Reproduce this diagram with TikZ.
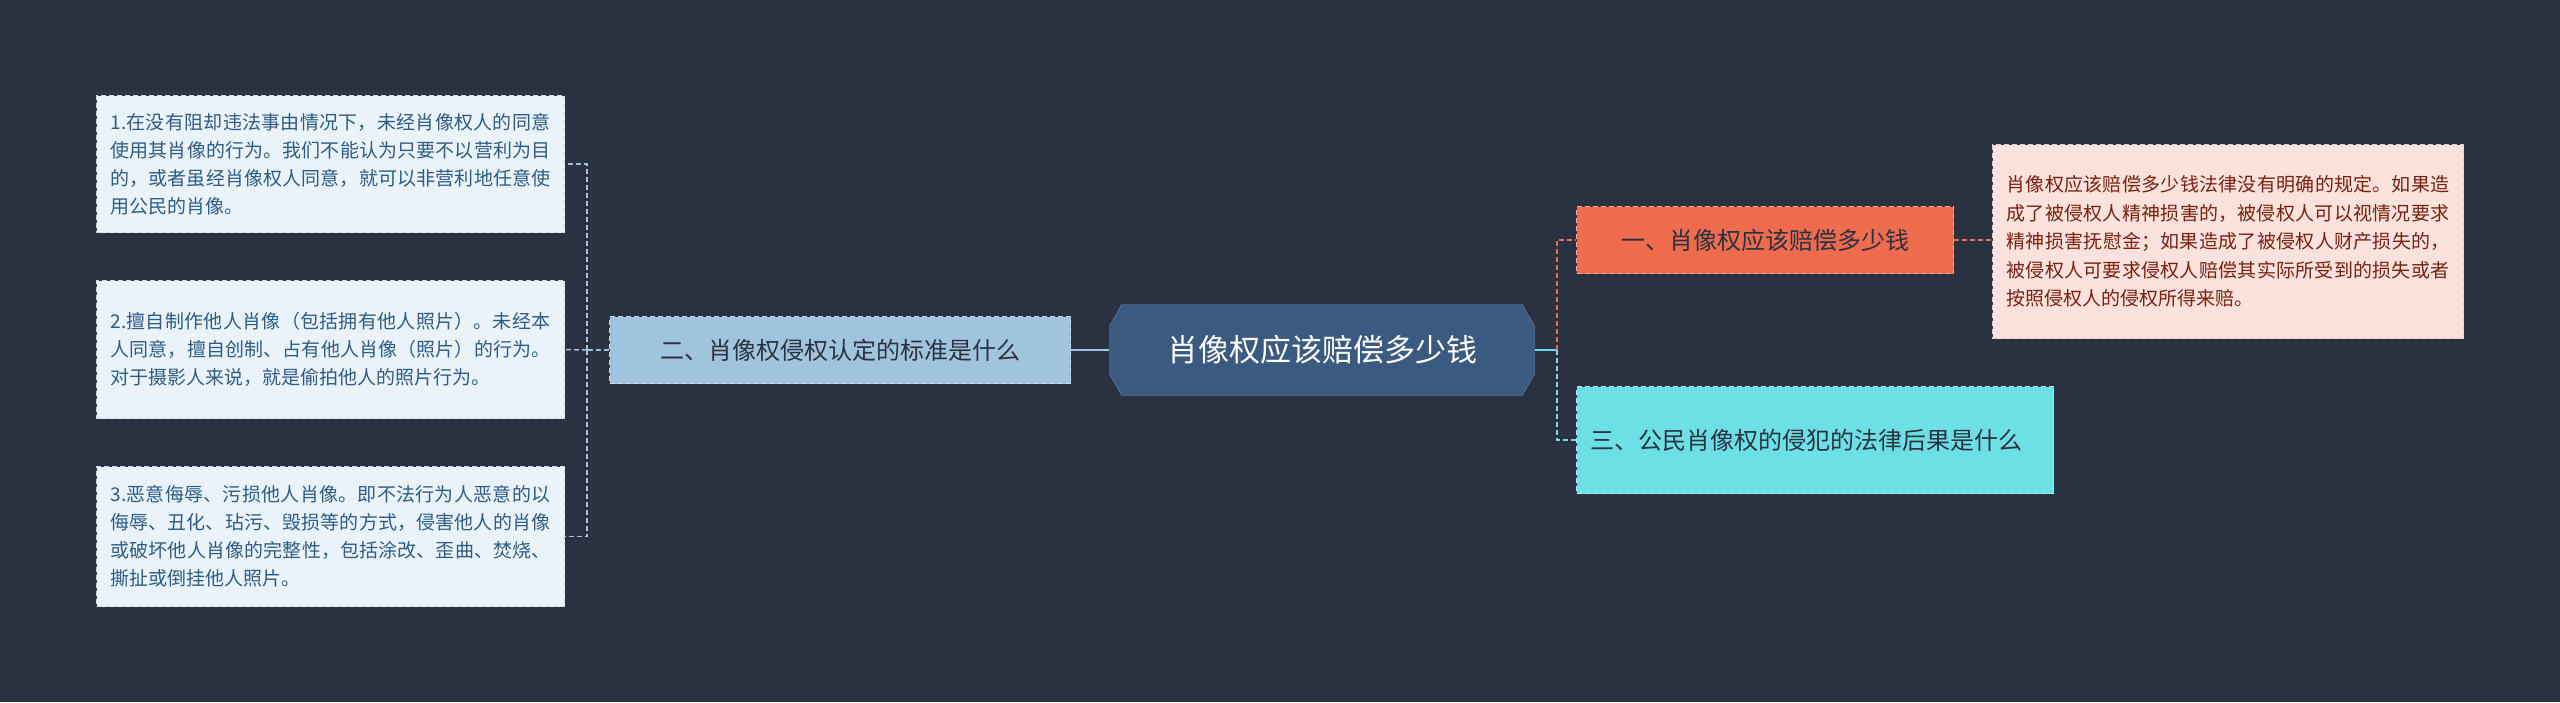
\documentclass[tikz,border=0pt]{standalone}
\usepackage{fontspec}
\setmainfont{Noto Sans CJK SC}
\XeTeXlinebreaklocale "zh"
\XeTeXlinebreakskip=0pt plus 1pt
\usetikzlibrary{shapes.misc,shapes.geometric}
\definecolor{bg}{HTML}{2A3242}
\definecolor{cen}{HTML}{3B5A80}
\definecolor{lnode}{HTML}{A0C4DE}
\definecolor{leaf}{HTML}{EAF3FA}
\definecolor{orng}{HTML}{EE6B4E}
\definecolor{pink}{HTML}{FCE2DC}
\definecolor{cyan1}{HTML}{6DE0E6}
\definecolor{ltxt}{HTML}{2E5C86}
\definecolor{rtxt}{HTML}{7A2010}
\tikzset{
 dsh/.style={dash pattern=on 5pt off 3pt},
 box/.style={draw=#1!60!white, dsh, line width=1pt, inner xsep=14pt, align=justify, anchor=north west},
 leafbox/.style={box=lnode, fill=leaf, text=ltxt, font=\fontsize{19}{28}\selectfont, text width=440pt, minimum height=137pt},
 lconn/.style={draw=lnode, dsh, line width=1.5pt},
}
\begin{document}
\begin{tikzpicture}[x=1pt,y=-1pt]
\fill[bg] (0,0) rectangle (2560,702);
\useasboundingbox (0,0) rectangle (2560,702);
% center
\node[chamfered rectangle, chamfered rectangle xsep=2cm, fill=cen, draw=cen!70!white, text=white, font=\fontsize{31}{36}\selectfont, minimum width=425pt, minimum height=91pt, inner xsep=0pt, chamfered rectangle angle=30] (c) at (1322,350) {肖像权应该赔偿多少钱};
% left
\node[box=lnode, fill=lnode, text=bg, font=\fontsize{24}{30}\selectfont, minimum width=461pt, minimum height=67pt, anchor=west, align=center] (l) at (609,350) {二、肖像权侵权认定的标准是什么};
\node[leafbox] (a1) at (96,95) {1.在没有阻却违法事由情况下，未经肖像权人的同意使用其肖像的行为。我们不能认为只要不以营利为目的，或者虽经肖像权人同意，就可以非营利地任意使用公民的肖像。};
\node[leafbox, minimum height=138pt] (a2) at (96,280) {2.擅自制作他人肖像（包括拥有他人照片）。未经本人同意，擅自创制、占有他人肖像（照片）的行为。对于摄影人来说，就是偷拍他人的照片行为。};
\node[leafbox, minimum height=140pt] (a3) at (96,466) {3.恶意侮辱、污损他人肖像。即不法行为人恶意的以侮辱、丑化、玷污、毁损等的方式，侵害他人的肖像或破坏他人肖像的完整性，包括涂改、歪曲、焚烧、撕扯或倒挂他人照片。};
\draw[draw=lnode, line width=2pt] (c.west) -- (l.east);
\coordinate (lj) at (587,350);
\draw[lconn] (l.west) -- (lj);
\draw[lconn] (lj) |- (a1.east);
\draw[lconn] (lj) |- (a3.east);
\draw[lconn] (lj) -- (a2.east);
% right
\node[box=orng, fill=orng, text=bg, font=\fontsize{24}{30}\selectfont, minimum width=377pt, minimum height=67pt, anchor=west, align=left] (r1) at (1576,240) {一、肖像权应该赔偿多少钱};
\node[box=orng, fill=pink, text=rtxt, font=\fontsize{19}{28.5}\selectfont, text width=443pt, minimum height=194pt, anchor=north west, draw=pink!80!gray] (d) at (1992,144) {肖像权应该赔偿多少钱法律没有明确的规定。如果造成了被侵权人精神损害的，被侵权人可以视情况要求精神损害抚慰金；如果造成了被侵权人财产损失的，被侵权人可要求侵权人赔偿其实际所受到的损失或者按照侵权人的侵权所得来赔。};
\node[box=cyan1, fill=cyan1, text=bg, font=\fontsize{24}{33}\selectfont, text width=449pt, minimum height=107pt, anchor=north west, align=left] (r3) at (1576,386) {三、公民肖像权的侵犯的法律后果是什么};
\coordinate (rj) at (1557,350);
\draw[draw=cyan1, line width=2pt] (c.east) -- (rj);
\draw[draw=orng, dsh, line width=1.5pt] (rj) |- (r1.west);
\draw[draw=cyan1, dsh, line width=1.5pt] (rj) |- (r3.west);
\draw[draw=orng, dsh, line width=1.5pt] (r1.east) -- (d.west |- r1.east);
\end{tikzpicture}
\end{document}
